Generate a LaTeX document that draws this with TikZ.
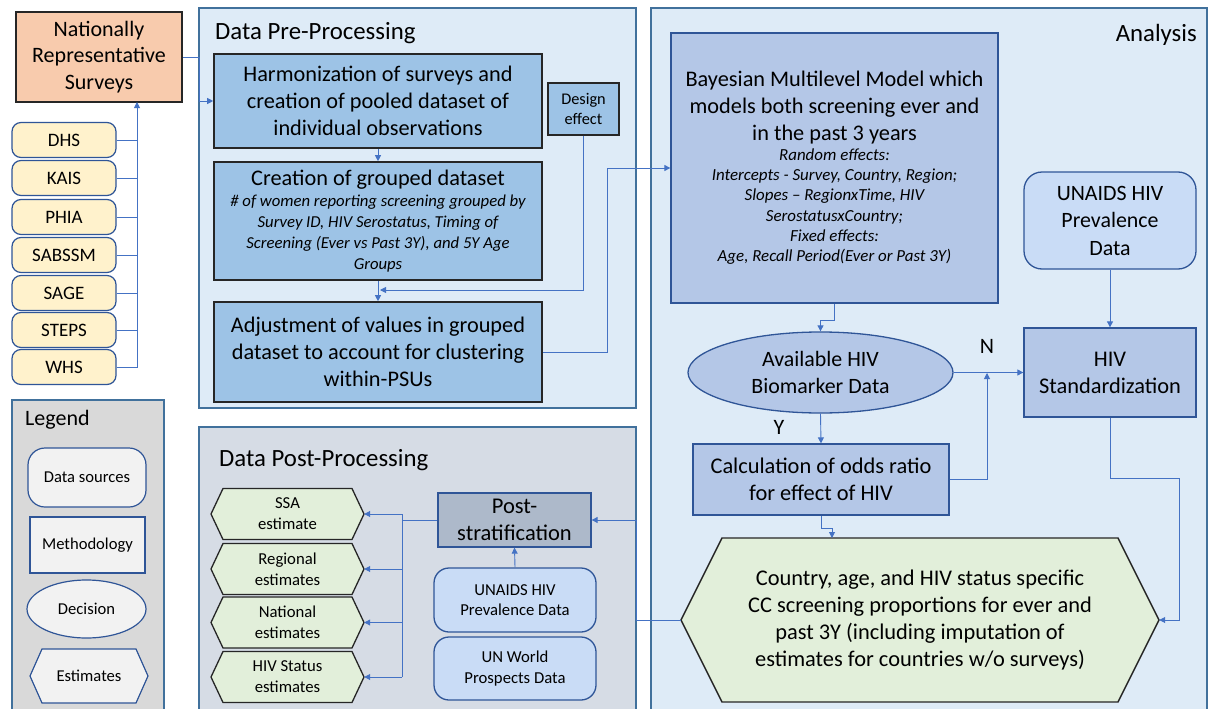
\documentclass[tikz,border=0pt]{standalone}
\usepackage{fontspec}
\setmainfont{Carlito}
\usetikzlibrary{arrows.meta,shapes.geometric,calc}
\definecolor{panelblue}{HTML}{DEEBF7}
\definecolor{panelgrey}{HTML}{D6DCE5}
\definecolor{legendgrey}{HTML}{D9D9D9}
\definecolor{procblue}{HTML}{9DC3E6}
\definecolor{anblue}{HTML}{B4C7E7}
\definecolor{datablue}{HTML}{C9DCF6}
\definecolor{poststrat}{HTML}{ADB9CA}
\definecolor{estgreen}{HTML}{E2EFDA}
\definecolor{survyellow}{HTML}{FFF2CC}
\definecolor{nrsorange}{HTML}{F8CBAD}
\definecolor{legitem}{HTML}{F2F2F2}
\definecolor{bdblue}{HTML}{2F5597}
\definecolor{panelbd}{HTML}{41719C}
\definecolor{connblue}{HTML}{4472C4}
\newcommand\fsz[2]{\fontsize{#1}{#2}\selectfont}
% name, cx, cy, w, h, inset, style, font, text
\newcommand\hexnode[9]{%
  \draw[#7] ({#2-#4/2+#6},{#3-#5/2}) -- ({#2+#4/2-#6},{#3-#5/2}) -- ({#2+#4/2},#3)
    -- ({#2+#4/2-#6},{#3+#5/2}) -- ({#2-#4/2+#6},{#3+#5/2}) -- ({#2-#4/2},#3) -- cycle;
  \node[minimum width=#4pt, minimum height=#5pt, inner sep=0pt, align=center, font=#8] (#1) at (#2,#3) {#9};
}
\begin{document}
\begin{tikzpicture}[x=1pt,y=-1pt,
  box/.style={rectangle, align=center, inner sep=2pt},
  panel/.style={draw=panelbd, line width=1.2pt},
  proc/.style={box, draw=black!85, fill=procblue, line width=1.6pt},
  anbox/.style={box, draw=bdblue, fill=anblue, line width=1.3pt},
  databox/.style={box, draw=bdblue, fill=datablue, line width=1.3pt, rounded corners=18pt},
  survbox/.style={box, draw=bdblue, fill=survyellow, line width=1.2pt, rounded corners=9pt,
     minimum width=104pt, minimum height=35pt, font=\fsz{19}{22}},
  leg/.style={box, draw=bdblue, fill=legitem, line width=1.2pt, font=\fsz{16.6}{20}},
  esthex/.style={draw=black!85, fill=estgreen, line width=1.3pt},
  ln/.style={draw=connblue, line width=0.9pt},
  arr/.style={ln, -{Triangle[length=6pt,width=6pt]}},
  big/.style={font=\fsz{22.3}{26.7}},
  ttl/.style={font=\fsz{24.8}{28}, inner sep=0pt}
]
\useasboundingbox (0,0) rectangle (1213,709);
\fill[white] (0,0) rectangle (1213,709);

% ---------- panels ----------
\draw[panel, fill=panelblue] (199,8) rectangle (636,408);
\draw[panel, fill=panelblue] (651,8) rectangle (1207,720);
\draw[panel, fill=panelgrey] (199,427) rectangle (636,720);
\draw[panel, fill=legendgrey] (12,400) rectangle (164,720);

\node[ttl, anchor=base west] (tpre) at (215,39.5) {Data Pre-Processing};
\node[ttl, anchor=base west] (tpost) at (219,466.5) {Data Post-Processing};
\node[ttl, anchor=base east] (tan) at (1197,42) {Analysis};
\node[font=\fsz{22}{26}, inner sep=0pt, anchor=base west] (tleg) at (25,425) {Legend};

% ---------- sources ----------
\node[box, draw=black!85, fill=nrsorange, line width=1.8pt, minimum width=166pt, minimum height=90pt, font=\fsz{22}{26.7}] (nrs) at (99,57)
  {Nationally\\Representative\\Surveys};
\node[survbox] (dhs) at (64,140) {DHS};
\node[survbox] (kais) at (64,178) {KAIS};
\node[survbox] (phia) at (64,217) {PHIA};
\node[survbox] (sab) at (64,255) {SABSSM};
\node[survbox] (sage) at (64,293) {SAGE};
\node[survbox] (steps) at (64,330) {STEPS};
\node[survbox] (whs) at (64,367) {WHS};
\coordinate (trunk) at (137,102);
\draw[arr] (whs.east) -| (trunk);
\foreach \s in {dhs,kais,phia,sab,sage,steps}{\draw[ln] (\s.east) -- (\s.east -| trunk);}

% ---------- pre-processing ----------
\node[proc, minimum width=328pt, minimum height=94pt, big] (harm) at (378,101)
  {Harmonization of surveys and\\creation of pooled dataset of\\individual observations};
\node[proc, minimum width=328pt, minimum height=118pt, font=\fsz{16.7}{21}] (crea) at (378,221)
  {{\fsz{22.3}{26.7}Creation of grouped dataset}\\
   \itshape \# of women reporting screening grouped by\\
   \itshape Survey ID, HIV Serostatus, Timing of\\
   \itshape Screening (Ever vs Past 3Y), and 5Y Age\\
   \itshape Groups};
\node[proc, minimum width=328pt, minimum height=100pt, big] (adj) at (378,352)
  {Adjustment of values in grouped\\dataset to account for clustering\\within-PSUs};
\node[proc, minimum width=71pt, minimum height=52pt, line width=1.3pt, font=\fsz{16.3}{20}] (deff) at (583.5,109)
  {Design\\effect};
\draw[arr] (nrs.east) -- ++(17,0) |- (harm.west);
\draw[arr] (harm.south) -- (crea.north);
\draw[arr] (crea.south) -- (adj.north);
\coordinate (dj) at (380,290);
\draw[arr] (deff.south) |- (dj);

% ---------- analysis ----------
\node[anbox, minimum width=327pt, minimum height=270pt, font=\fsz{16.9}{20.3}] (bayes) at (834.5,168)
  {{\fsz{22.3}{26.7}Bayesian Multilevel Model which}\\[6.4pt]
   {\fsz{22.3}{26.7}models both screening ever and}\\[6.4pt]
   {\fsz{22.3}{26.7}in the past 3 years}\\
   \itshape Random effects:\\
   \itshape Intercepts - Survey, Country, Region;\\
   \itshape Slopes -- RegionxTime, HIV\\
   \itshape SerostatusxCountry;\\
   \itshape Fixed effects:\\
   \itshape Age, Recall Period(Ever or Past 3Y)};
\node[databox, minimum width=172pt, minimum height=97pt, font=\fsz{21.9}{27.5}] (unaids) at (1110,220.5)
  {UNAIDS HIV\\Prevalence\\Data};
\node[anbox, minimum width=172pt, minimum height=89pt, font=\fsz{22.4}{27}] (hivstd) at (1110,372.5)
  {HIV\\Standardization};
\node[ellipse, draw=bdblue, fill=anblue, line width=1.3pt, minimum width=265pt, minimum height=81pt, inner sep=0pt,
  align=center, font=\fsz{21.9}{27}] (ell) at (820.5,372.5) {Available HIV\\Biomarker Data};
\node[anbox, minimum width=256pt, minimum height=71pt, font=\fsz{22.4}{26.5}] (calc) at (821,479.5)
  {Calculation of odds ratio\\for effect of HIV};
\hexnode{hex}{920}{620}{478}{164}{41}{draw=black!85, fill=estgreen, line width=1.4pt}{\fsz{22.4}{26.7}}
  {Country, age, and HIV status specific\\CC screening proportions for ever and\\past 3Y (including imputation of\\estimates for countries w/o surveys)}

\draw[arr] (adj.east) -- ++(65,0) |- (bayes.west);
\draw[arr] (bayes.south) -- ++(0,17) -| (ell.north);
\draw[arr] (unaids.south) -- (hivstd.north);
\draw[arr] (ell.east) -- (hivstd.west);
\draw[arr] (ell.south) -- (calc.north);
\coordinate (nj) at (987,373);
\draw[arr] (calc.east) -| (nj);
\coordinate (hexin) at (832,538);
\draw[arr] (calc.south) -- ++(0,13) -| (hexin);
\coordinate (hr) at (1179,478);
\draw[arr] (hivstd.south) |- (hr) |- (hex.east);
\node[font=\fsz{22}{26}, inner sep=0pt] (nlab) at (987,346) {N};
\node[font=\fsz{22}{26}, inner sep=0pt] (ylab) at (779,427) {Y};

% ---------- post-processing ----------
\node[box, draw=bdblue, fill=poststrat, line width=1.3pt, minimum width=153pt, minimum height=54pt, font=\fsz{22.5}{26.7}] (post) at (514.5,520)
  {Post-\\stratification};
\node[databox, rounded corners=15pt, minimum width=162pt, minimum height=64pt, font=\fsz{16.7}{20.7}] (unaids2) at (515,600)
  {UNAIDS HIV\\Prevalence Data};
\node[databox, rounded corners=15pt, minimum width=162pt, minimum height=63pt, font=\fsz{16.7}{20.7}] (unwpd) at (515,668.5)
  {UN World\\Prospects Data};
\hexnode{ssa}{287.5}{514}{153}{51}{12}{esthex}{\fsz{16.7}{21}}{SSA\\estimate}
\hexnode{reg}{287.5}{569}{153}{51}{12}{esthex}{\fsz{16.7}{21}}{Regional\\estimates}
\hexnode{nat}{287.5}{622.5}{153}{51}{12}{esthex}{\fsz{16.7}{21}}{National\\estimates}
\hexnode{hst}{287.5}{677}{153}{51}{12}{esthex}{\fsz{16.7}{21}}{HIV Status\\estimates}

\coordinate (pj) at (636,620);
\draw[arr] (hex.west) -- (pj) |- (post.east);
\draw[arr] (unaids2.north) -- (post.south);
\coordinate (bx) at (402,520);
\draw[ln] (post.west) -- (bx);
\draw[ln] (bx |- ssa.east) -- (bx |- hst.east);
\foreach \e in {ssa,reg,nat,hst}{\draw[arr] (bx |- \e.east) -- (\e.east);}

% ---------- legend ----------
\node[leg, rounded corners=17pt, minimum width=118pt, minimum height=59pt] (lds) at (87,477.5) {Data sources};
\node[leg, minimum width=115pt, minimum height=56pt] (lmeth) at (87.5,545) {Methodology};
\node[ellipse, draw=bdblue, fill=legitem, line width=1.2pt, minimum width=119pt, minimum height=58pt, inner sep=0pt, font=\fsz{16.6}{20}] (ldec) at (86.5,609) {Decision};
\hexnode{lest}{89}{676}{118}{54}{12}{draw=bdblue, fill=legitem, line width=1.2pt}{\fsz{16.6}{20}}{Estimates}
\end{tikzpicture}
\end{document}
